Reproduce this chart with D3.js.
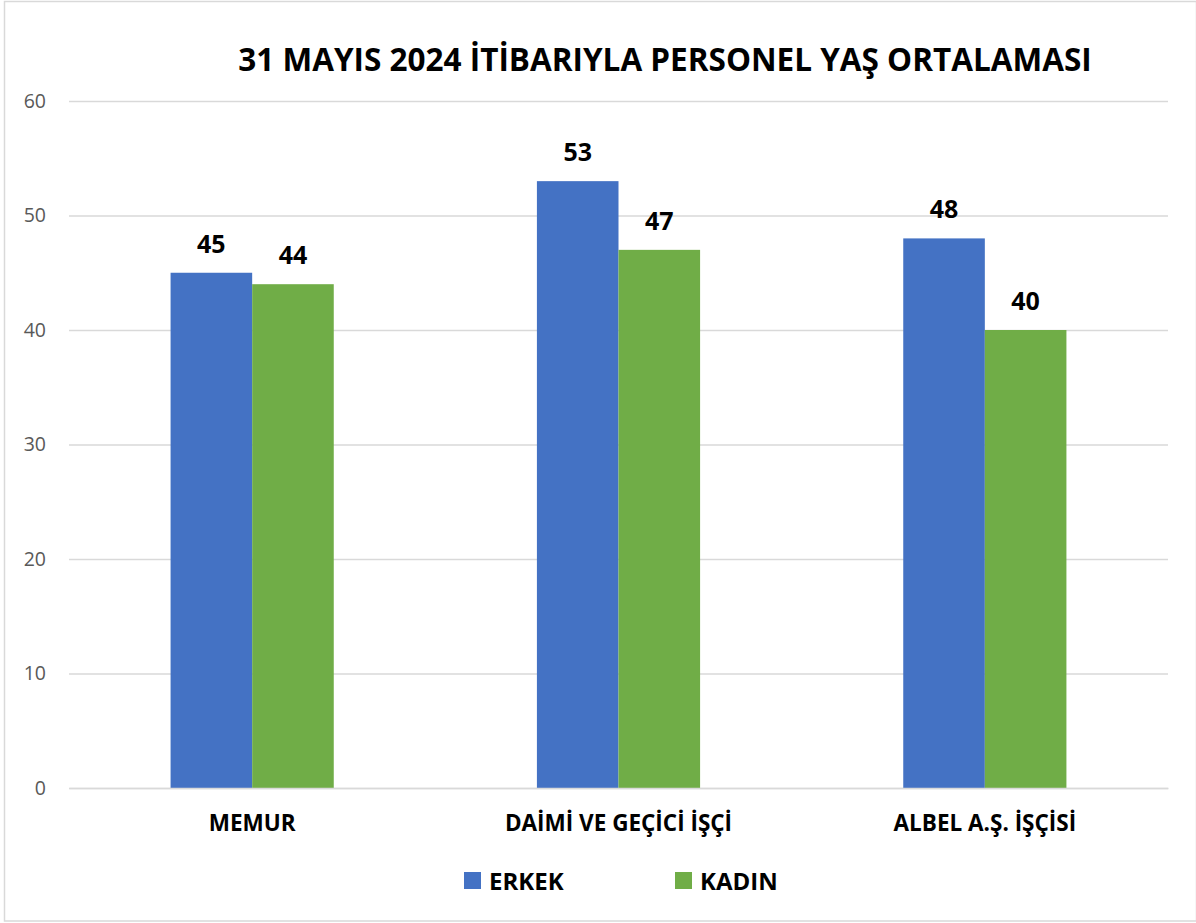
<!DOCTYPE html>
<html>
<head>
<meta charset="utf-8">
<script src="https://cdn.jsdelivr.net/npm/d3@7"></script>
<style>
  body { margin: 0; background: #fff; }
  text { font-family: "Open Sans", sans-serif; }
</style>
</head>
<body>
<svg id="chart" width="1196" height="923"></svg>
<script>
const categories = ["MEMUR", "DAİMİ VE GEÇİCİ İŞÇİ", "ALBEL A.Ş. İŞÇİSİ"];
const seriesNames = ["ERKEK", "KADIN"];
const erkek = [45, 53, 48];
const kadin = [44, 47, 40];
const yTicks = [0, 10, 20, 30, 40, 50, 60];
const title = "31 MAYIS 2024 İTİBARIYLA PERSONEL YAŞ ORTALAMASI";

const colors = ["#4472C4", "#70AD47"];

const width = 1196;
const height = 923;
const margin = ({top: 101, right: 28, bottom: 135, left: 69});

const data = categories.map((c, i) => ({cat: c, ERKEK: erkek[i], KADIN: kadin[i]}));

const svg = d3.select("#chart");

// outer frame
svg.append("rect")
    .attr("x", 4.5).attr("y", 1.5)
    .attr("width", width - 4).attr("height", height - 3.5)
    .attr("fill", "#fff")
    .attr("stroke", "#d9d9d9")
    .attr("stroke-width", 1.5);

const x0 = d3.scaleBand()
    .domain(categories)
    .range([margin.left, width - margin.right])
    .padding(0);

const x1 = d3.scaleBand()
    .domain(seriesNames)
    .range([0, x0.bandwidth()])
    .paddingInner(0)
    .paddingOuter(1.245);

const y = d3.scaleLinear()
    .domain([0, 60])
    .range([height - margin.bottom, margin.top]);

const color = d3.scaleOrdinal().domain(seriesNames).range(colors);

// grid + y labels
const yAxis = g => g
    .attr("transform", `translate(${margin.left},0)`)
    .call(d3.axisLeft(y).tickValues(yTicks).tickSize(-(width - margin.left - margin.right)).tickPadding(23))
    .call(g => g.select(".domain").remove())
    .call(g => g.selectAll(".tick line").attr("stroke", "#d9d9d9").attr("stroke-width", 1.5))
    .call(g => g.selectAll(".tick text")
        .attr("fill", "#595959")
        .attr("font-size", 19.5)
        .attr("font-family", "Open Sans, sans-serif"));

svg.append("g").call(yAxis);

// bars
const groups = svg.append("g")
    .selectAll("g")
    .data(data)
    .join("g")
    .attr("transform", d => `translate(${x0(d.cat)},0)`);

groups.selectAll("rect")
    .data(d => seriesNames.map(key => ({key, value: d[key]})))
    .join("rect")
    .attr("x", d => x1(d.key))
    .attr("y", d => y(d.value))
    .attr("width", x1.bandwidth())
    .attr("height", d => y(0) - y(d.value))
    .attr("fill", d => color(d.key));

groups.selectAll("text")
    .data(d => seriesNames.map(key => ({key, value: d[key]})))
    .join("text")
    .attr("x", d => x1(d.key) + x1.bandwidth() / 2)
    .attr("y", d => y(d.value) - 20)
    .attr("text-anchor", "middle")
    .attr("font-size", 25)
    .attr("font-weight", "bold")
    .attr("fill", "#000")
    .text(d => d.value);

// x labels
const xAxis = g => g
    .attr("transform", `translate(0,${height - margin.bottom})`)
    .call(d3.axisBottom(x0).tickSize(0).tickPadding(27))
    .call(g => g.select(".domain").attr("stroke", "#d9d9d9").attr("stroke-width", 1.5))
    .call(g => g.selectAll(".tick text")
        .attr("fill", "#000")
        .attr("font-size", 22.5)
        .attr("font-weight", "bold")
        .attr("font-family", "Open Sans, sans-serif"));

svg.append("g").call(xAxis);

// title
svg.append("text")
    .attr("x", 665)
    .attr("y", 71)
    .attr("text-anchor", "middle")
    .attr("font-size", 31.5)
    .attr("font-weight", "bold")
    .attr("fill", "#000")
    .text(title);

// legend
const legendX = [464, 675];
const legend = svg.append("g")
    .selectAll("g")
    .data(seriesNames)
    .join("g")
    .attr("transform", (d, i) => `translate(${legendX[i]},872)`);

legend.append("rect")
    .attr("width", 17).attr("height", 17)
    .attr("fill", d => color(d));

legend.append("text")
    .attr("x", 25)
    .attr("y", 17.5)
    .attr("font-size", 24)
    .attr("font-weight", "bold")
    .attr("fill", "#000")
    .text(d => d);
</script>
</body>
</html>
